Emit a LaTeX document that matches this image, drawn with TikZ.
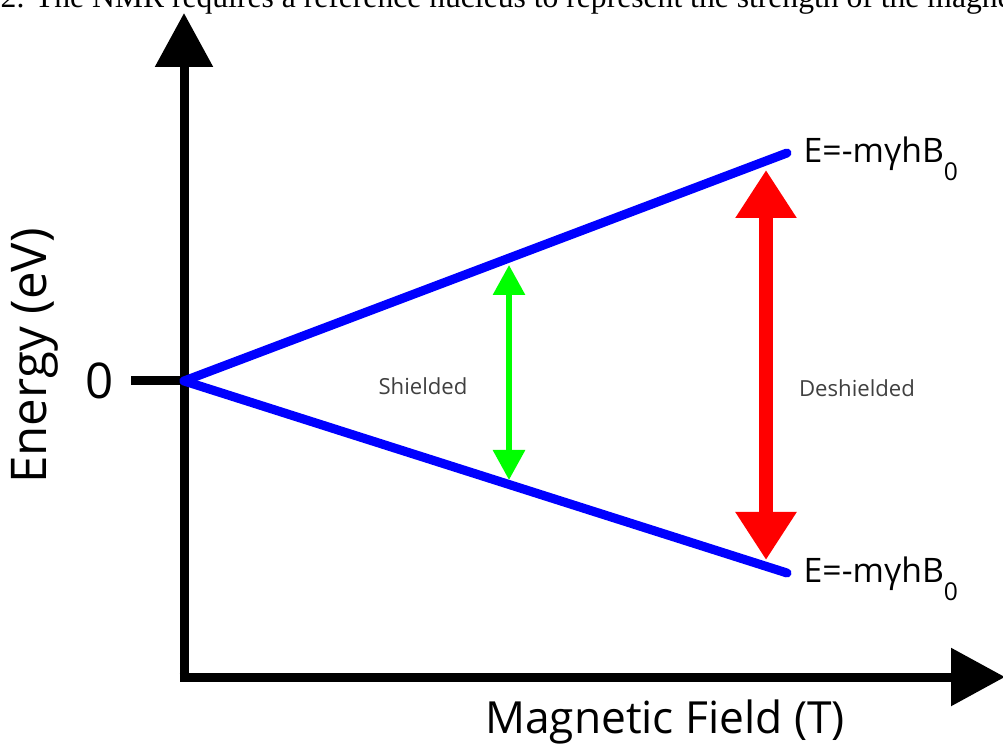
\documentclass[tikz,border=0pt]{standalone}
\usepackage{fontspec}
\setmainfont{Open Sans}
\newfontfamily\capfont{Liberation Serif}
\usepackage{tikz}
\usetikzlibrary{positioning,arrows.meta}

\begin{document}
\begin{tikzpicture}[
    axis/.style={line width=0.09cm, -{Triangle[length=0.54cm, width=0.56cm]}},
    level/.style={line width=0.09cm, blue, line cap=round},
    gap/.style={line width=#1},
    lbl/.style={font=\fontsize{9.6}{11}\selectfont, anchor=west, inner sep=0pt},
    big/.style={font=\fontsize{14}{16}\selectfont, inner sep=0pt},
    small/.style={font=\fontsize{6.3}{7}\selectfont, text=black!75, inner sep=0pt}
]
\useasboundingbox (0,0) rectangle (10.03,7.51);
\clip (0,0) rectangle (10.03,7.51);
\node[anchor=base west, inner sep=0pt, font=\capfont\fontsize{9}{11}\selectfont] (cap) at (0,7.43) {2. The NMR requires a reference nucleus to represent the strength of the magnetic field};
\coordinate (corner) at (1.84,0.74);
\coordinate (ytop) at (1.84,7.38);
\coordinate (xend) at (10.05,0.74);
\coordinate (zero) at (1.84,3.70);
\coordinate (tick) at (1.31,3.70);
\coordinate (up) at (7.87,5.98);
\coordinate (lo) at (7.87,1.78);
\coordinate (gtop) at (5.09,4.86);
\coordinate (gbot) at (5.09,2.71);
\coordinate (rtop) at (7.66,5.81);
\coordinate (rbot) at (7.66,1.91);
\draw[axis] (corner) -- (ytop);
\draw[axis] ([xshift=-0.045cm]corner) -- (xend);
\draw[line width=0.09cm] (tick) -- (zero);
\draw[level] (zero) -- (up);
\draw[level] (zero) -- (lo);
\draw[gap=0.06cm, green, {Triangle[length=0.30cm, width=0.31cm]}-{Triangle[length=0.30cm, width=0.31cm]}] (gtop) -- (gbot);
\draw[gap=0.14cm, red, {Triangle[length=0.48cm, width=0.58cm]}-{Triangle[length=0.48cm, width=0.58cm]}] (rtop) -- (rbot);
\node[lbl] (eup) at (8.03,5.92) {E=-mγhB\raisebox{-0.55em}{\fontsize{7}{8}\selectfont 0}};
\node[lbl] (elo) at (8.03,1.72) {E=-mγhB\raisebox{-0.55em}{\fontsize{7}{8}\selectfont 0}};
\node[small] (sh) at (4.23,3.65) {Shielded};
\node[small] (dsh) at (8.57,3.63) {Deshielded};
\node[big] (nul) at (1.00,3.70) {0};
\node[big, rotate=90] (ylab) at (0.35,3.95) {Energy (eV)};
\node[font=\fontsize{12.6}{14}\selectfont, inner sep=0pt] (xlab) at (6.65,0.29) {Magnetic Field (T)};
\end{tikzpicture}
\end{document}
